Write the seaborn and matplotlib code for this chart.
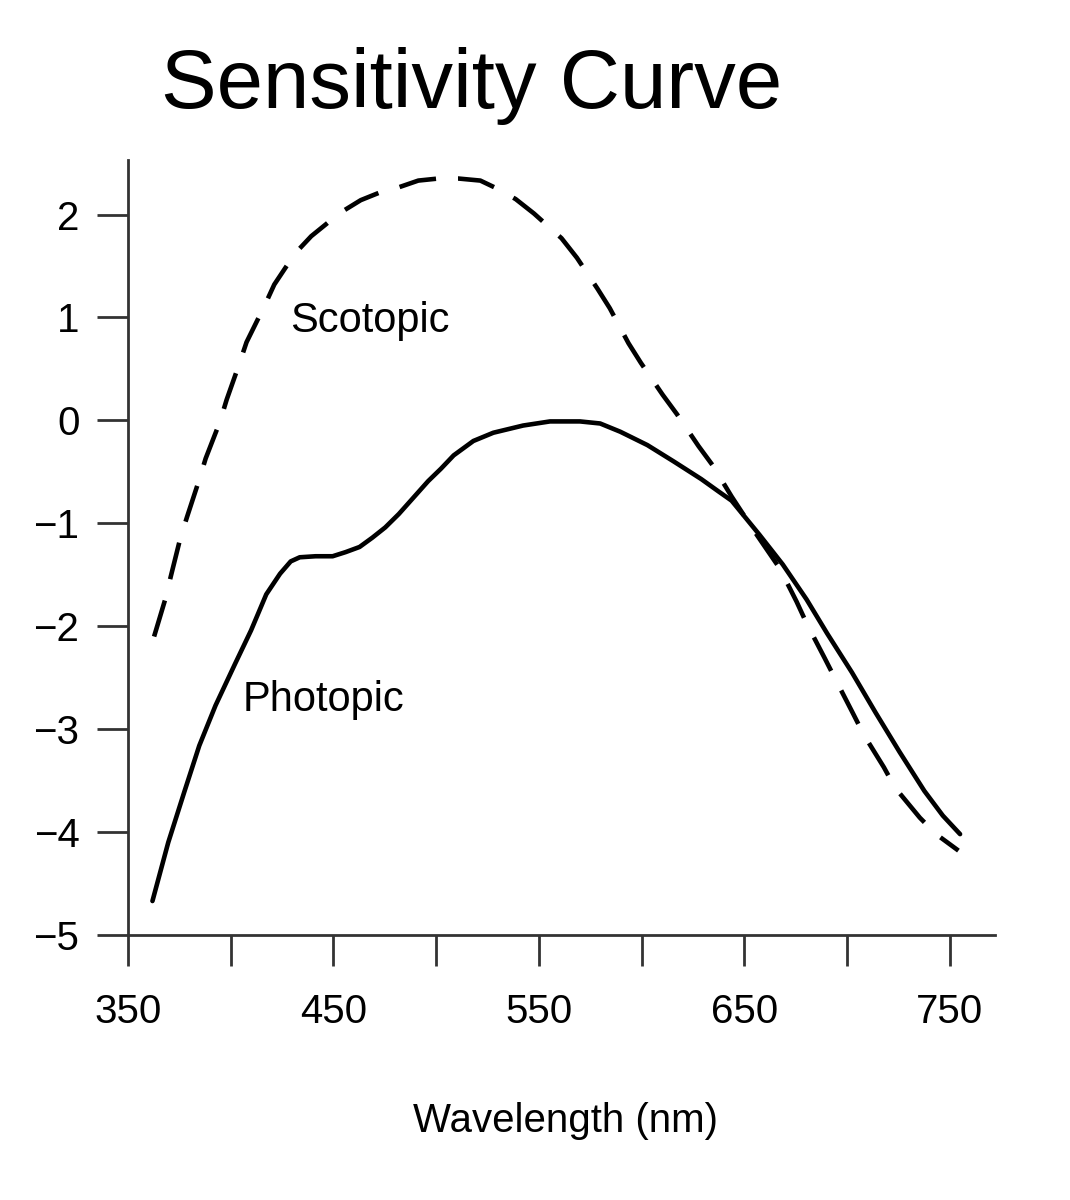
import matplotlib
matplotlib.use("Agg")
import matplotlib.pyplot as plt
import pandas as pd
import seaborn as sns

# values (wavelength in nm, log sensitivity)
scotopic_nm = [362.7, 368.1, 370.9, 375.4, 378.7, 384.6, 387.8, 394.8, 398.0, 404.0,
               407.7, 416.6, 421.2, 431.2, 439.2, 446.0, 452.7, 463.3, 472.0, 481.1,
               491.3, 501.0, 510.8, 521.5, 529.9, 538.7, 547.6, 561.0, 568.5, 578.5,
               584.5, 593.6, 599.6, 610.2, 617.2, 627.7, 634.7, 643.8, 655.3, 667.3,
               675.4, 680.5, 689.1, 694.2, 702.7, 708.3, 717.9, 723.4, 735.4, 743.3,
               754.2]
scotopic_val = [-2.10, -1.74, -1.51, -1.15, -0.94, -0.58, -0.37, -0.01, 0.20, 0.54,
                0.76, 1.12, 1.32, 1.62, 1.79, 1.90, 2.01, 2.14, 2.21, 2.26,
                2.33, 2.35, 2.35, 2.33, 2.25, 2.15, 2.01, 1.77, 1.58, 1.28,
                1.09, 0.75, 0.56, 0.25, 0.06, -0.25, -0.44, -0.74, -1.09, -1.44,
                -1.76, -1.98, -2.31, -2.51, -2.84, -3.06, -3.37, -3.57, -3.86, -4.02,
                -4.18]

photopic_nm = [361.9, 369.6, 377.4, 384.7, 392.6, 402.0, 409.9, 417.3, 424.0, 429.2,
               433.6, 441.3, 449.6, 455.9, 462.7, 468.9, 475.2, 481.8, 496.1, 502.3,
               508.5, 518.1, 527.8, 542.3, 555.4, 570.0, 579.8, 589.6, 602.8, 615.7,
               629.0, 637.4, 643.8, 657.3, 668.7, 680.3, 690.3, 702.4, 713.9, 725.5,
               737.6, 746.6, 755.0]
photopic_val = [-4.67, -4.10, -3.61, -3.16, -2.77, -2.37, -2.04, -1.69, -1.49, -1.37,
                -1.33, -1.32, -1.32, -1.28, -1.23, -1.14, -1.04, -0.91, -0.59, -0.47,
                -0.34, -0.20, -0.12, -0.05, -0.01, -0.01, -0.03, -0.11, -0.24, -0.40,
                -0.57, -0.69, -0.78, -1.11, -1.40, -1.74, -2.07, -2.45, -2.84, -3.22,
                -3.60, -3.84, -4.02]

x_ticks = [350, 400, 450, 500, 550, 600, 650, 700, 750]
x_ticklabels = ["350", "", "450", "", "550", "", "650", "", "750"]
y_ticks = [-5, -4, -3, -2, -1, 0, 1, 2]

scot = pd.DataFrame({"nm": scotopic_nm, "val": scotopic_val})
phot = pd.DataFrame({"nm": photopic_nm, "val": photopic_val})

sns.set_style("white")
plt.rcParams["font.family"] = ["Liberation Sans", "DejaVu Sans"]
plt.rcParams["text.color"] = "black"
plt.rcParams["axes.labelcolor"] = "black"

fig = plt.figure(figsize=(10.7, 12), dpi=100)
ax = fig.add_axes([128 / 1070, 265 / 1200, 867 / 1070, 775 / 1200])

# solid = photopic, dashed = scotopic
sns.lineplot(data=phot, x="nm", y="val", ax=ax, color="black", linewidth=3.3,
             estimator=None)
sns.lineplot(data=scot, x="nm", y="val", ax=ax, color="black", linewidth=3.3,
             estimator=None, linestyle=(0, (8.2, 4.8)))

ax.set_xlim(350, 772)
ax.set_ylim(-5, 2.53)
ax.set_xticks(x_ticks)
ax.set_xticklabels(x_ticklabels)
ax.set_yticks(y_ticks)

for side in ["top", "right"]:
    ax.spines[side].set_visible(False)
for side in ["left", "bottom"]:
    ax.spines[side].set_color("#333333")
    ax.spines[side].set_linewidth(2)

ax.tick_params(axis="x", direction="out", length=22, width=2, color="#333333",
               pad=20, labelsize=29, labelcolor="black", bottom=True)
ax.tick_params(axis="y", direction="out", length=22, width=2, color="#333333",
               pad=13, labelsize=29, labelcolor="black", left=True)

ax.set_xlabel("Wavelength (nm)", fontsize=29)
ax.xaxis.set_label_coords(0.505, -0.215)
ax.set_ylabel("")

ax.text(429, 0.86, "Scotopic", fontsize=30, ha="left", va="baseline")
ax.text(406, -2.82, "Photopic", fontsize=30, ha="left", va="baseline")

fig.text(472 / 1070, 1 - 108 / 1200, "Sensitivity Curve", fontsize=60,
         ha="center", va="baseline")

fig.savefig("out.png", dpi=100, facecolor="white")
